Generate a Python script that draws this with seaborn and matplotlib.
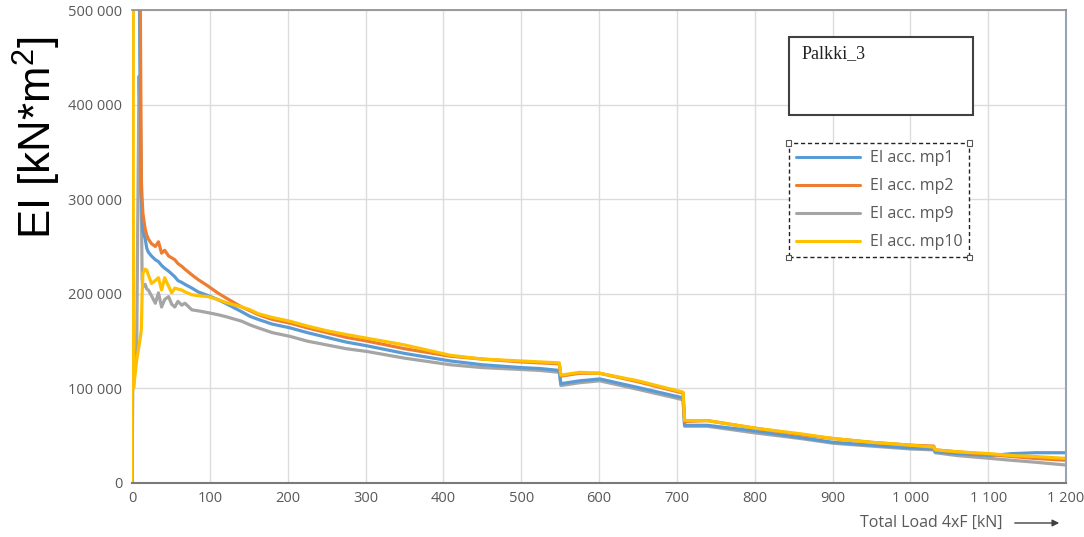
import numpy as np
import pandas as pd
import matplotlib
matplotlib.use("Agg")
import matplotlib.pyplot as plt
from matplotlib.patches import Rectangle
from matplotlib.ticker import FuncFormatter, MultipleLocator
import seaborn as sns

# ---------------- data (EI values in thousands of kN*m^2) ----------------
load = [0, 1, 2, 6, 9, 10, 12, 13, 14, 17, 19, 21, 25, 30, 34, 38, 42, 47, 51, 55,
        59, 64, 68, 77, 85, 98, 110, 120, 141, 152, 162, 180, 203, 225, 250, 275,
        302, 350, 409, 450, 500, 524, 549, 551, 575, 601, 650, 708, 710, 739, 800,
        859, 901, 950, 1000, 1030, 1032, 1060, 1103, 1130, 1160, 1200]
mp1 = [0, 600, 600, 600, 600, 450, 305, 280, 266, 258, 248, 244, 240, 236, 234, 230,
       227, 224, 221, 218, 214, 212, 210, 206, 202, 198, 194, 190, 181, 176, 173, 168,
       164, 159, 154, 149, 145, 137, 129, 125, 122, 121, 119, 105, 108, 110, 101, 90,
       61, 61, 55, 48, 43, 40, 37, 36, 33, 31, 29, 31, 32, 32]
mp2 = [0, 600, 600, 600, 600, 600, 320, 300, 285, 268, 262, 258, 253, 250, 255, 243,
       246, 240, 238, 236, 232, 229, 226, 220, 215, 208, 201, 196, 186, 182, 178, 173,
       169, 164, 159, 154, 150, 142, 134, 131, 128, 127, 126, 113, 116, 116, 107, 95,
       65, 66, 58, 51, 47, 43, 40, 39, 35, 33, 30, 28, 26, 24]
mp9 = [0, 100, 120, 140, 430, 400, 300, 215, 207, 210, 205, 204, 198, 190, 201, 186,
       194, 197, 189, 186, 192, 188, 190, 183, 182, 180, 178, 176, 171, 167, 164, 159,
       155, 150, 146, 142, 139, 132, 125, 122, 120, 119, 117, 103, 106, 108, 99, 88,
       60, 60, 53, 47, 42, 39, 36, 35, 32, 29, 26, 24, 22, 19]
mp10 = [0, 600, 100, 130, 145, 150, 162, 200, 222, 226, 225, 220, 211, 214, 217, 204,
        217, 208, 201, 206, 205, 204, 202, 199, 198, 197, 194, 191, 186, 183, 179, 175,
        171, 166, 161, 157, 153, 146, 135, 131, 129, 128, 127, 114, 117, 116, 108, 96,
        66, 66, 58, 52, 47, 43, 40, 38, 35, 33, 31, 29, 28, 26]

series_names = ["EI acc. mp1", "EI acc. mp2", "EI acc. mp9", "EI acc. mp10"]
series_vals = [mp1, mp2, mp9, mp10]
colors = ["#5B9BD5", "#ED7D31", "#A5A5A5", "#FFC000"]

frames = []
for name, vals in zip(series_names, series_vals):
    frames.append(pd.DataFrame({"load": load,
                                "EI": np.array(vals, dtype=float) * 1000.0,
                                "series": name}))
df = pd.concat(frames, ignore_index=True)

# ---------------- figure ----------------
sns.set_theme(style="white")
plt.rcParams["font.family"] = ["Open Sans", "DejaVu Sans"]

W, H = 1084, 537
fig = plt.figure(figsize=(W / 100, H / 100), dpi=100)
ax = fig.add_axes([132 / W, 1 - 483 / H, (1066 - 132) / W, (483 - 10) / H])

draw_order = ["EI acc. mp9", "EI acc. mp1", "EI acc. mp2", "EI acc. mp10"]
for name in draw_order:
    i = series_names.index(name)
    sub = df[df["series"] == name]
    sns.lineplot(data=sub, x="load", y="EI", ax=ax, color=colors[i],
                 linewidth=2.3, estimator=None, sort=False, legend=False)

ax.set_xlim(0, 1200)
ax.set_ylim(0, 500000)
ax.xaxis.set_major_locator(MultipleLocator(100))
ax.yaxis.set_major_locator(MultipleLocator(100000))

def spaced(v, pos):
    return f"{int(round(v)):,}".replace(",", " ")

ax.xaxis.set_major_formatter(FuncFormatter(spaced))
ax.yaxis.set_major_formatter(FuncFormatter(spaced))
ax.tick_params(axis="both", labelsize=10.5, labelcolor="#595959", length=0)
ax.tick_params(axis="y", pad=7)
ax.tick_params(axis="x", pad=6)
ax.grid(True, color="#dcdcdc", linewidth=1.0)
ax.set_axisbelow(True)
ax.set_xlabel("")
ax.set_ylabel("")

ax.spines["left"].set_visible(False)
ax.spines["top"].set_color("#8c8c8c")
ax.spines["top"].set_linewidth(1.2)
ax.spines["bottom"].set_color("#7a7a7a")
ax.spines["bottom"].set_linewidth(1.5)
ax.spines["right"].set_color("#9aa3b5")
ax.spines["right"].set_linewidth(1.5)

# y label
fig.text(37 / W, 1 - 138 / H, r"EI [kN*m$\mathregular{^2}$]", rotation=90,
         ha="center", va="center", fontsize=31.5, color="black",
         family=["Liberation Sans", "DejaVu Sans"])

# x label with arrow
fig.text(1003 / W, 1 - 523 / H, "Total Load 4xF [kN]", ha="right", va="center",
         fontsize=11.5, color="#595959")
fig.add_artist(matplotlib.patches.FancyArrowPatch(
    (1012 / W, 1 - 523 / H), (1062 / W, 1 - 523 / H),
    transform=fig.transFigure, arrowstyle="-|>", mutation_scale=10,
    color="#404040", linewidth=1.0))

# Palkki_3 box
fig.add_artist(Rectangle((789 / W, 1 - 115 / H), (973 - 789) / W, (115 - 37) / H,
                         transform=fig.transFigure, fill=True, facecolor="white",
                         edgecolor="#404040", linewidth=1.5))
fig.text(802 / W, 1 - 45 / H, "Palkki_3", ha="left", va="top", fontsize=13,
         color="#222222", family=["Liberation Serif", "DejaVu Serif"])

# legend
handles = [matplotlib.lines.Line2D([], [], color=c, linewidth=2.2) for c in colors]
leg = ax.legend(handles, series_names, loc="upper left",
                bbox_to_anchor=(789 / W, 1 - 143 / H), bbox_transform=fig.transFigure,
                fontsize=11.5, handlelength=4.0, labelspacing=0.75, handletextpad=0.6,
                borderpad=0.45, borderaxespad=0, frameon=True, fancybox=False)
for t in leg.get_texts():
    t.set_color("#595959")
fr = leg.get_frame()
fr.set_edgecolor("#222222")
fr.set_linestyle((0, (3, 2)))
fr.set_linewidth(1.0)
fr.set_facecolor("white")
fr.set_alpha(1)

# small selection handles at legend corners
fig.canvas.draw()
bb = leg.get_window_extent().transformed(fig.transFigure.inverted())
sw, sh = 5 / W, 5 / H
for cx, cy in [(bb.x0, bb.y0), (bb.x1, bb.y0), (bb.x0, bb.y1), (bb.x1, bb.y1)]:
    fig.add_artist(Rectangle((cx - sw / 2, cy - sh / 2), sw, sh,
                             transform=fig.transFigure, facecolor="white",
                             edgecolor="#555555", linewidth=0.8, zorder=10))

fig.savefig("out.png", dpi=100)
